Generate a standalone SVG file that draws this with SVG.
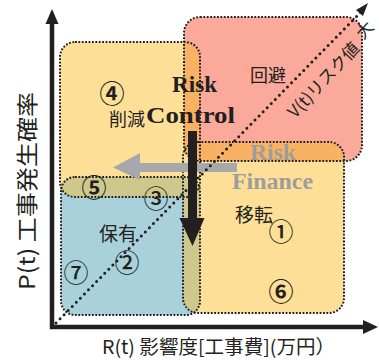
<svg xmlns="http://www.w3.org/2000/svg" width="379" height="360" viewBox="0 0 379 360">
<defs>
<style>
.dot{fill:none;stroke:#231F20;stroke-width:2;stroke-dasharray:1.8 1.6}
.jp{font-family:"Noto Sans CJK JP","Liberation Sans",sans-serif;fill:#231F20}
.num{font-family:"Noto Sans CJK JP","DejaVu Sans",sans-serif;fill:#231F20;font-size:25px;text-anchor:middle;font-weight:500}
.b{font-weight:700}
.ser{font-family:"Liberation Serif","Times New Roman",serif;font-weight:bold}
.ax{stroke:#231F20;stroke-width:4.5;fill:none}
</style>
<clipPath id="cA"><rect x="60" y="42" width="140" height="155" rx="15"/></clipPath>
<clipPath id="cC"><rect x="183" y="142" width="161" height="171" rx="15"/></clipPath>
</defs>
<rect width="379" height="360" fill="#fff"/>

<g id="node-avoid">
<rect x="184" y="17" width="178" height="144" rx="16" fill="#FAA99B"/>
</g>
<g id="node-reduce">
<rect x="60" y="42" width="140" height="155" rx="15" fill="#FDDF97"/>
</g>
<g id="node-transfer">
<rect x="183" y="142" width="161" height="171" rx="15" fill="#FDDF97"/>
</g>
<g id="node-retain">
<rect x="61" y="177" width="139" height="138" rx="14" fill="#A9D1DC"/>
</g>
<g id="overlaps">
<rect x="184" y="17" width="178" height="144" rx="16" fill="#F9B263" clip-path="url(#cA)"/>
<rect x="184" y="17" width="178" height="144" rx="16" fill="#F9B263" clip-path="url(#cC)"/>
<rect x="61" y="177" width="139" height="138" rx="14" fill="#CFC88C" clip-path="url(#cA)"/>
<rect x="61" y="177" width="139" height="138" rx="14" fill="#CFC88C" clip-path="url(#cC)"/>
</g>
<g id="borders">
<rect class="dot" x="184" y="17" width="178" height="144" rx="16"/>
<rect class="dot" x="60" y="42" width="140" height="155" rx="15"/>
<rect class="dot" x="183" y="142" width="161" height="171" rx="15"/>
<rect class="dot" x="61" y="177" width="139" height="138" rx="14"/>
</g>

<g id="connectors">
<path class="ax" d="M52 23 V329 M49.8 327 H364"/>
<path d="M52 9 L45.5 24 L58.5 24 Z" fill="#231F20"/>
<path d="M378 327 L363 320 L363 334 Z" fill="#231F20"/>
<path d="M140 163 H237 V172 H140 V180 L113 167.5 L140 153 Z" fill="#A6A8AB"/>
<line x1="56" y1="323" x2="361" y2="12" stroke="#231F20" stroke-width="3" stroke-linecap="round" stroke-dasharray="0 5.8"/>
<path d="M368 3 L356 10 L363 16 Z" fill="#231F20"/>
<path d="M188 131 H197 V218 H204.5 L192.5 246 L179.5 218 H188 Z" fill="#231F20"/>
</g>

<g id="labels">
<text class="ser" x="172" y="92" font-size="23" fill="#231F20" textLength="45" lengthAdjust="spacingAndGlyphs">Risk</text>
<text class="ser" x="146" y="123" font-size="23" fill="#231F20" textLength="89" lengthAdjust="spacingAndGlyphs">Control</text>
<text class="ser" x="250" y="160" font-size="23" fill="#9D9D9D" textLength="46" lengthAdjust="spacingAndGlyphs">Risk</text>
<text class="ser" x="232" y="189" font-size="23" fill="#9D9D9D" textLength="81" lengthAdjust="spacingAndGlyphs">Finance</text>
<text class="jp" x="109" y="126" font-size="18">削減</text>
<text class="jp" x="250" y="82" font-size="18">回避</text>
<text class="jp" x="235" y="222" font-size="19">移転</text>
<text class="jp" x="99" y="241" font-size="19">保有</text>
<text class="num b" x="112" y="103">④</text>
<text class="num b" x="94" y="197">⑤</text>
<text class="num" x="156" y="208">③</text>
<text class="num" x="127" y="272">②</text>
<text class="num" x="76" y="282">⑦</text>
<text class="num" x="281" y="241">①</text>
<text class="num b" x="281" y="301">⑥</text>
<text class="jp" font-size="17" text-anchor="middle" transform="translate(328 84) rotate(-47)">V(t)リスク値</text>
<text class="jp" font-size="17" text-anchor="middle" transform="translate(369 34) rotate(-47)">大</text>
<text class="jp" font-size="19" x="102" y="354" textLength="233" lengthAdjust="spacingAndGlyphs">R(t) 影響度[工事費](万円）</text>
<text class="jp" font-size="22" text-anchor="middle" transform="translate(35 191) rotate(-90)" textLength="198" lengthAdjust="spacingAndGlyphs">P(t) 工事発生確率</text>
</g>
</svg>
